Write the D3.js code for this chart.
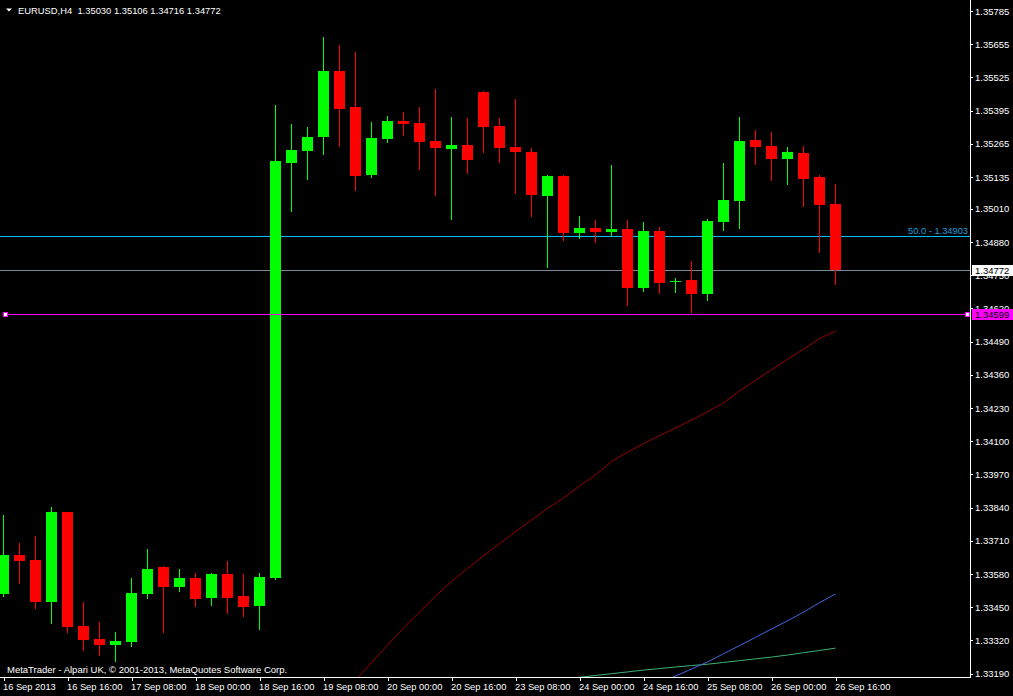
<!DOCTYPE html>
<html><head><meta charset="utf-8">
<script src="https://cdn.jsdelivr.net/npm/d3@7"></script>
<style>
html,body{margin:0;padding:0;background:#000;overflow:hidden}
svg{display:block}
text{font-family:"Liberation Sans",Arial,sans-serif}
</style></head><body><svg id="c" width="1013" height="696"></svg>
<script>
// ---- data ----
const categories = [
 "16 Sep 00:00","16 Sep 04:00","16 Sep 08:00","16 Sep 12:00","16 Sep 16:00","16 Sep 20:00",
 "17 Sep 00:00","17 Sep 04:00","17 Sep 08:00","17 Sep 12:00","17 Sep 16:00","17 Sep 20:00",
 "18 Sep 00:00","18 Sep 04:00","18 Sep 08:00","18 Sep 12:00","18 Sep 16:00","18 Sep 20:00",
 "19 Sep 00:00","19 Sep 04:00","19 Sep 08:00","19 Sep 12:00","19 Sep 16:00","19 Sep 20:00",
 "20 Sep 00:00","20 Sep 04:00","20 Sep 08:00","20 Sep 12:00","20 Sep 16:00","20 Sep 20:00",
 "23 Sep 00:00","23 Sep 04:00","23 Sep 08:00","23 Sep 12:00","23 Sep 16:00","23 Sep 20:00",
 "24 Sep 00:00","24 Sep 04:00","24 Sep 08:00","24 Sep 12:00","24 Sep 16:00","24 Sep 20:00",
 "25 Sep 00:00","25 Sep 04:00","25 Sep 08:00","25 Sep 12:00","25 Sep 16:00","25 Sep 20:00",
 "26 Sep 00:00","26 Sep 04:00","26 Sep 08:00","26 Sep 12:00","26 Sep 16:00"
];
const openV = [1.33502,1.33655,1.33635,1.33472,1.33823,1.33377,1.33326,1.33302,1.33315,1.33503,1.33608,1.33531,
 1.33565,1.33487,1.33580,1.33494,1.33456,1.33566,1.35191,1.35238,1.35293,1.35550,1.35409,1.35144,
 1.35285,1.35354,1.35346,1.35276,1.35246,1.35260,1.35468,1.35335,1.35252,1.35233,1.35062,1.35139,
 1.34917,1.34935,1.34921,1.34931,1.34701,1.34923,1.34725,1.34732,1.34678,1.34960,1.35042,1.35280,
 1.35256,1.35207,1.35229,1.35135,1.35030];
const highV = [1.33811,1.33702,1.33730,1.33843,1.33825,1.33471,1.33392,1.33353,1.33565,1.33678,1.33610,1.33600,
 1.33584,1.33584,1.33631,1.33580,1.33584,1.35417,1.35342,1.35331,1.35683,1.35652,1.35624,1.35350,
 1.35374,1.35389,1.35409,1.35480,1.35370,1.35366,1.35472,1.35366,1.35440,1.35248,1.35143,1.35141,
 1.34982,1.34967,1.35182,1.34967,1.34959,1.34939,1.34739,1.34806,1.34970,1.35190,1.35370,1.35319,
 1.35311,1.35252,1.35256,1.35143,1.35106];
const lowV = [1.33494,1.33545,1.33448,1.33390,1.33354,1.33284,1.33263,1.33241,1.33299,1.33487,1.33354,1.33515,
 1.33456,1.33460,1.33429,1.33417,1.33366,1.33561,1.35003,1.35128,1.35226,1.35257,1.35085,1.35136,
 1.35273,1.35301,1.35167,1.35066,1.34972,1.35152,1.35234,1.35195,1.35073,1.34983,1.34784,1.34889,
 1.34897,1.34882,1.34905,1.34635,1.34690,1.34682,1.34686,1.34607,1.34654,1.34929,1.34936,1.35187,
 1.35124,1.35109,1.35023,1.34842,1.34716];
const closeV = [1.33655,1.33631,1.33472,1.33823,1.33374,1.33323,1.33302,1.33318,1.33506,1.33600,1.33529,1.33565,
 1.33482,1.33580,1.33487,1.33452,1.33569,1.35198,1.35241,1.35292,1.35550,1.35402,1.35140,1.35288,
 1.35354,1.35344,1.35273,1.35250,1.35260,1.35203,1.35331,1.35250,1.35234,1.35066,1.35139,1.34917,
 1.34935,1.34921,1.34931,1.34701,1.34923,1.34721,1.34728,1.34678,1.34963,1.35045,1.35276,1.35254,
 1.35207,1.35233,1.35128,1.35026,1.34772];
// moving averages (null = below visible window)
const maRed = [null,null,null,null,null,null,null,null,null,null,null,null,null,null,null,null,null,null,null,null,null,null,
 1.33165,1.33233,1.33302,1.33369,1.33431,1.33494,1.33551,1.33602,1.33652,1.33699,1.33746,1.33792,1.33837,1.33878,
 1.33925,1.33968,1.34021,1.34057,1.34091,1.34122,1.34152,1.34183,1.34216,1.34250,1.34297,1.34339,1.34380,1.34421,
 1.34461,1.34502,1.34532];
const maBlue = [null,null,null,null,null,null,null,null,null,null,null,null,null,null,null,null,null,null,null,null,
 null,null,null,null,null,null,null,null,null,null,null,null,null,null,null,null,null,null,null,null,null,
 1.33153,1.33181,1.33208,1.33236,1.33268,1.33300,1.33332,1.33365,1.33397,1.33431,1.33468,1.33502];
const maGreen = [null,null,null,null,null,null,null,null,null,null,null,null,null,null,null,null,null,null,null,null,
 null,null,null,null,null,null,null,null,null,null,null,null,null,null,null,
 1.33167,1.33176,1.33183,1.33190,1.33197,1.33204,1.33210,1.33216,1.33222,1.33227,1.33234,1.33241,1.33248,1.33255,
 1.33263,1.33272,1.33281,1.33290];
const priceTicks = [1.35785,1.35655,1.35525,1.35395,1.35265,1.35135,1.35010,1.34880,1.34750,1.34620,1.34490,
 1.34360,1.34230,1.34100,1.33970,1.33840,1.33710,1.33580,1.33450,1.33320,1.33190];
const timeTicks = ["16 Sep 00:00","16 Sep 16:00","17 Sep 08:00","18 Sep 00:00","18 Sep 16:00","19 Sep 08:00",
 "20 Sep 00:00","20 Sep 16:00","23 Sep 08:00","24 Sep 00:00","24 Sep 16:00","25 Sep 08:00","26 Sep 00:00","26 Sep 16:00"];
const timeTickLabels = ["16 Sep 2013","16 Sep 16:00","17 Sep 08:00","18 Sep 00:00","18 Sep 16:00","19 Sep 08:00",
 "20 Sep 00:00","20 Sep 16:00","23 Sep 08:00","24 Sep 00:00","24 Sep 16:00","25 Sep 08:00","26 Sep 00:00","26 Sep 16:00"];
const fibLevel = 1.34903, bidLevel = 1.34772, hLineLevel = 1.34599;
const headerText = "EURUSD,H4  1.35030 1.35106 1.34716 1.34772";
const copyright = "MetaTrader - Alpari UK, \u00a9 2001-2013, MetaQuotes Software Corp.";

// ---- layout ----
const W = 1013, H = 696, PR = 970, PB = 677;
const svg = d3.select("#c");
svg.append("rect").attr("width", W).attr("height", H).attr("fill", "#000");
const x = d3.scalePoint().domain(categories).range([3.5, 835.5]);
const y = d3.scaleLinear().domain([1.33177, 1.35828]).range([PB, 0]);
const snap = v => Math.round(v) + 0.5;

svg.append("defs").append("clipPath").attr("id", "clip")
  .append("rect").attr("x", 0).attr("y", 0).attr("width", PR).attr("height", PB);
const plot = svg.append("g").attr("clip-path", "url(#clip)");

// moving averages
const mkLine = d3.line().defined(d => d.v != null).x(d => x(d.c)).y(d => y(d.v));
[[maRed, "#990000"], [maGreen, "#3cb371"], [maBlue, "#4169e1"]].forEach(([arr, col]) => {
  plot.append("path")
    .datum(categories.map((c, i) => ({c, v: arr[i]})))
    .attr("d", mkLine).attr("fill", "none").attr("stroke", col).attr("stroke-width", 1);
});

// horizontal lines
plot.append("line").attr("x1", 0).attr("x2", PR).attr("y1", snap(y(fibLevel))).attr("y2", snap(y(fibLevel)))
  .attr("stroke", "#00bfff").attr("shape-rendering", "crispEdges");
plot.append("line").attr("x1", 0).attr("x2", PR).attr("y1", snap(y(bidLevel))).attr("y2", snap(y(bidLevel)))
  .attr("stroke", "#778899").attr("shape-rendering", "crispEdges");

// candles
const bars = categories.map((c, i) => ({c, o: openV[i], h: highV[i], l: lowV[i], cl: closeV[i]}));
const cg = plot.append("g").attr("shape-rendering", "crispEdges");
cg.selectAll("line.w").data(bars).join("line").attr("class", "w")
  .attr("x1", d => x(d.c)).attr("x2", d => x(d.c))
  .attr("y1", d => Math.round(y(d.h))).attr("y2", d => Math.round(y(d.l)) + 1)
  .attr("stroke", d => d.cl >= d.o ? "#00ff00" : "#ff0000");
cg.selectAll("rect.b").data(bars).join("rect").attr("class", "b")
  .attr("x", d => x(d.c) - 5.5).attr("width", 11)
  .attr("y", d => Math.round(y(Math.max(d.o, d.cl))))
  .attr("height", d => Math.max(1, Math.round(y(Math.min(d.o, d.cl))) - Math.round(y(Math.max(d.o, d.cl)))))
  .attr("fill", d => d.cl >= d.o ? "#00ff00" : "#ff0000");

// magenta horizontal line
const hy = snap(y(hLineLevel));
svg.append("line").attr("x1", 5).attr("x2", 967).attr("y1", hy).attr("y2", hy)
  .attr("stroke", "#ff00ff").attr("shape-rendering", "crispEdges");
[5, 967].forEach(px => {
  svg.append("rect").attr("x", px - 2).attr("y", hy - 2.5).attr("width", 4).attr("height", 4)
    .attr("fill", "#fff").attr("stroke", "#ff00ff").attr("stroke-width", 1).attr("shape-rendering", "crispEdges");
});

// fib label
svg.append("text").attr("x", 968).attr("y", snap(y(fibLevel)) - 3).attr("text-anchor", "end")
  .attr("font-size", "9.3px").attr("fill", "#1c9ddc").text("50.0 - " + fibLevel.toFixed(5));

// right axis
const ya = svg.append("g").attr("transform", `translate(${PR},0)`)
  .call(d3.axisRight(y).tickValues(priceTicks).tickSize(3).tickSizeOuter(0).tickPadding(2).tickFormat(d3.format(".5f")));
ya.select(".domain").remove();
ya.selectAll("line").attr("stroke", "#fff").attr("shape-rendering", "crispEdges");
ya.selectAll("text").attr("fill", "#fff").attr("font-size", "9.5px").attr("font-family", "Liberation Sans, Arial, sans-serif");
svg.append("line").attr("x1", PR + 0.5).attr("x2", PR + 0.5).attr("y1", 0).attr("y2", PB + 1)
  .attr("stroke", "#fff").attr("shape-rendering", "crispEdges");

// bottom axis
const xa = svg.append("g").attr("transform", `translate(0,${PB})`)
  .call(d3.axisBottom(x).tickValues(timeTicks).tickSize(4).tickSizeOuter(0).tickPadding(2)
    .tickFormat(d => timeTickLabels[timeTicks.indexOf(d)]));
xa.select(".domain").remove();
xa.selectAll("line").attr("stroke", "#fff").attr("shape-rendering", "crispEdges");
xa.selectAll("text").attr("fill", "#fff").attr("font-size", "9.3px").attr("text-anchor", "start")
  .attr("dx", "-1").attr("font-family", "Liberation Sans, Arial, sans-serif");
svg.append("line").attr("x1", 0).attr("x2", PR + 1).attr("y1", PB + 0.5).attr("y2", PB + 0.5)
  .attr("stroke", "#fff").attr("shape-rendering", "crispEdges");

// price boxes on axis (they cover the neighbouring axis labels, as in the terminal)
function priceBox(level, bg, fg) {
  const cy = Math.round(y(level));
  svg.append("rect").attr("x", PR + 2).attr("y", cy - 5).attr("width", W - PR - 2).attr("height", 11).attr("fill", bg);
  svg.append("text").attr("x", PR + 5).attr("y", cy + 4).attr("font-size", "9.5px").attr("fill", fg).text(level.toFixed(5));
}
priceBox(bidLevel, "#ffffff", "#000000");
priceBox(hLineLevel, "#ff00ff", "#000000");

// header
svg.append("path").attr("d", "M6,8.5 L12,8.5 L9,11.5 Z").attr("fill", "#fff");
svg.append("text").attr("x", 18).attr("y", 13.5).attr("font-size", "9.4px").attr("fill", "#fff")
  .attr("xml:space", "preserve").style("white-space", "pre").text(headerText);

// copyright
svg.append("text").attr("x", 7).attr("y", 673).attr("font-size", "9.5px").attr("fill", "#fff").text(copyright);
</script></body></html>
